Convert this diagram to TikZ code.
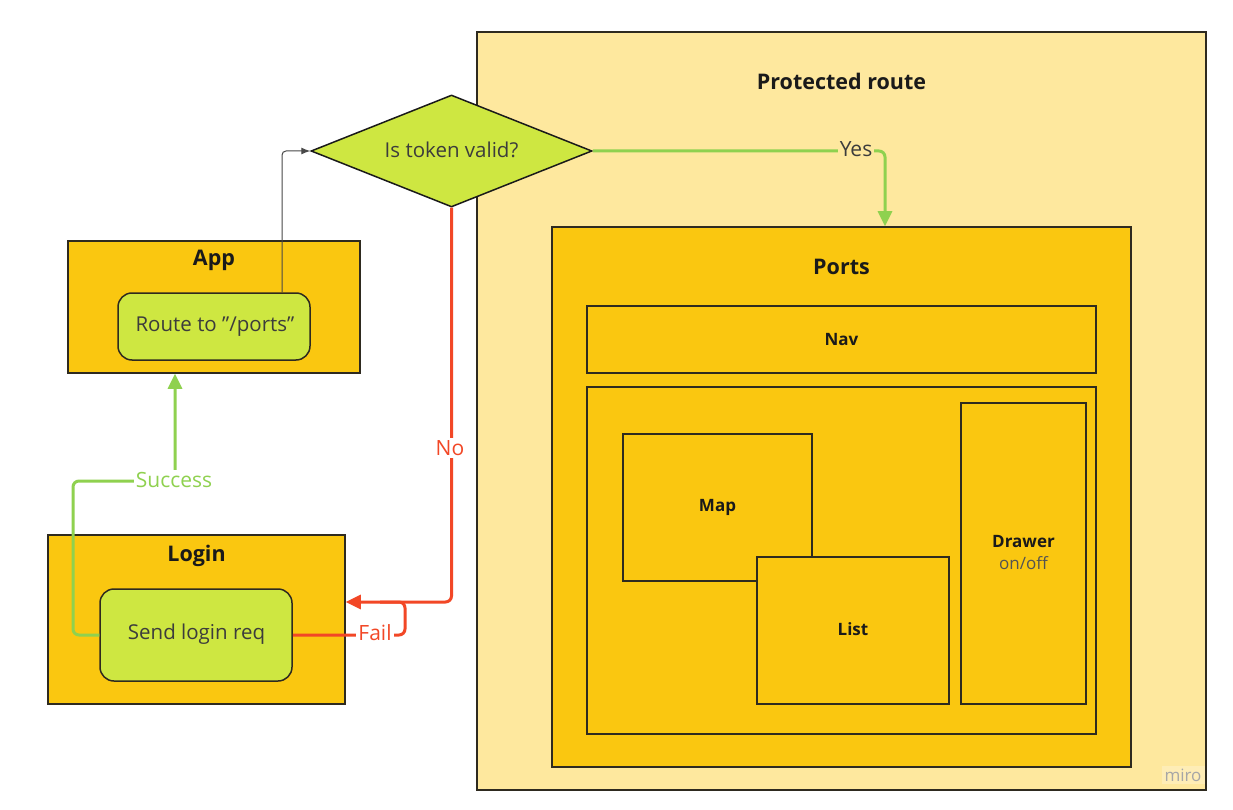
\documentclass[tikz,border=0pt]{standalone}
\usepackage{fontspec}
\setmainfont{Open Sans}
\usetikzlibrary{shapes.geometric,arrows.meta}
\definecolor{bgY}{HTML}{FEE89E}
\definecolor{orY}{HTML}{FAC710}
\definecolor{limeG}{HTML}{CEE741}
\definecolor{lineG}{HTML}{8FD14F}
\definecolor{lineR}{HTML}{F24726}
\definecolor{ink}{HTML}{1A1A1A}
\definecolor{edge}{HTML}{2E2A1F}
\begin{document}
\begin{tikzpicture}[x=1pt,y=-1pt,
  box/.style={draw=edge,line width=1.5pt,inner sep=0pt},
  obox/.style={box,fill=orY},
  gbox/.style={box,fill=limeG,rounded corners=14pt},
  ttl/.style={font=\fontsize{21.5}{26}\selectfont\bfseries,text=ink,inner sep=0pt},
  sml/.style={font=\fontsize{17}{20}\selectfont\bfseries,text=ink,inner sep=0pt},
  txt/.style={font=\fontsize{20.5}{24}\selectfont,text=ink!85,inner sep=0pt},
  lbl/.style={font=\fontsize{21}{25}\selectfont,inner sep=2pt},
  gline/.style={draw=lineG,line width=3pt,rounded corners=6pt},
  rline/.style={draw=lineR,line width=3pt,rounded corners=6pt},
  garrow/.style={-{Triangle[length=15pt,width=14pt]}},
]
\useasboundingbox[fill=white] (0,0) rectangle (1233,810);

% Protected route
\node[box,fill=bgY,minimum width=729,minimum height=758] (prot) at (841.5,411) {};
\node[ttl] (protT) at (841.5,81) {Protected route};

% Ports
\node[obox,minimum width=579,minimum height=540] (ports) at (841.5,497) {};
\node[ttl] (portsT) at (841.5,267) {Ports};
\node[obox,minimum width=509,minimum height=67] (nav) at (841.5,339.5) {};
\node[sml] (navT) at (841.5,339.5) {Nav};
\node[obox,minimum width=509,minimum height=347] (content) at (841.5,560.5) {};
\node[obox,minimum width=189,minimum height=147] (map) at (717.5,507.5) {};
\node[sml] (mapT) at (717.5,507) {Map};
\node[obox,minimum width=192,minimum height=147] (list) at (853,630.5) {};
\node[sml] (listT) at (853,629.5) {List};
\node[obox,minimum width=125,minimum height=301] (drawer) at (1023.5,553.5) {};
\node[sml] (drawerT) at (1023.5,541.5) {Drawer};
\node[font=\fontsize{17}{20}\selectfont,text=ink!75,inner sep=0pt] (drawerS) at (1023.5,563.5) {on/off};

% App
\node[obox,minimum width=292,minimum height=132] (app) at (214,307) {};
\node[ttl] (appT) at (214,260.5) {App};
\node[gbox,minimum width=192,minimum height=67] (route) at (214,326.5) {};
\node[txt] (routeT) at (215,326.5) {Route to \symbol{"22}/ports\symbol{"22}};

% Login
\node[obox,minimum width=297,minimum height=169] (login) at (196.5,619.5) {};
\node[ttl] (loginT) at (196.5,555.5) {Login};
\node[gbox,minimum width=192,minimum height=92] (send) at (196,635) {};
\node[txt] (sendT) at (196.5,634) {Send login req};

% Diamond
\node[draw=ink,line width=1.5pt,fill=limeG,diamond,aspect=2.5,inner sep=0pt,
      minimum width=281,minimum height=112] (dia) at (451.5,151) {};
\node[txt] (diaT) at (451.5,150) {Is token valid?};

% coordinates for routing
\coordinate (yesC) at (885,151);
\coordinate (failC) at (405,602);
\coordinate (succC) at (73,481);
\coordinate (succT) at (175,481);

% App -> diamond
\draw[draw=ink!80,line width=1pt,rounded corners=4pt,-{Latex[length=9pt,width=7pt]}]
  (route.north -| 282,0) |- (dia.west);

% Yes
\draw[gline,garrow] (dia.east) -- (yesC) -- (ports.north -| yesC);
\node[lbl,fill=bgY,text=ink!85] (yesL) at (856,149) {Yes};

% No
\draw[rline,garrow] (dia.south) |- (login.east |- failC);
\node[lbl,fill=white,text=lineR] (noL) at (450,448) {No};

% Fail
\draw[rline] (send.east) -- (send.east -| failC) -- (failC) -- (failC -| 380,0);
\node[lbl,fill=white,text=lineR] (failL) at (375,633) {Fail};

% Success
\draw[gline,garrow] (send.west) -- (send.west -| succC) -- (succC) -- (succT) -- (app.south -| succT);
\node[lbl,fill=white,text=lineG] (succL) at (174,480) {Success};

% watermark
\node[fill=white,fill opacity=0.25,text opacity=1,text=gray!70,font=\fontsize{17}{20}\selectfont,inner sep=3pt] (miro) at (1183,775) {miro};
\end{tikzpicture}
\end{document}
